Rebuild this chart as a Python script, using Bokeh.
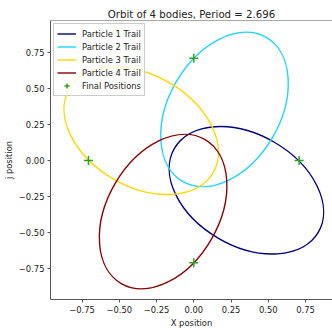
from bokeh.plotting import figure
from bokeh.models import Range1d, FixedTicker, Legend, LegendItem, Span
from bokeh.embed import file_html
from bokeh.resources import INLINE

# Orbit trails, each one a tilted ellipse: centre, full axis lengths, tilt
trail_labels = ["Particle 1 Trail", "Particle 2 Trail", "Particle 3 Trail", "Particle 4 Trail"]
trail_colors = ["navy", "#1fd3ff", "gold", "darkred"]
center_x = [0.353, 0.206, -0.353, -0.206]
center_y = [-0.206, 0.353, 0.206, -0.353]
major_axis = [1.118, 1.118, 1.118, 1.118]
minor_axis = [0.769, 0.769, 0.769, 0.769]
tilt_deg = [-30.2, 59.8, 149.8, 239.8]

# Final positions of the four bodies
final_x = [0.707, 0.0, -0.707, 0.0]
final_y = [0.0, 0.707, 0.0, -0.707]

tick_values = [-0.75, -0.5, -0.25, 0.0, 0.25, 0.5, 0.75]
tick_labels = ["\u22120.75", "\u22120.50", "\u22120.25", "0.00", "0.25", "0.50", "0.75"]

FONT = "DejaVu Sans"
TICK_PX = "8.4px"
NAN = float("nan")

p = figure(
    width=332, height=330,
    output_backend="svg", toolbar_location=None,
    x_range=Range1d(-0.962, 0.931), y_range=Range1d(-0.961, 0.968),
    min_border_left=50, min_border_right=0, min_border_top=20, min_border_bottom=27,
    title="Orbit of 4 bodies, Period = 2.696",
)
p.xgrid.visible = False
p.ygrid.visible = False
p.outline_line_color = None
p.background_fill_color = "white"
p.border_fill_color = "white"

p.title.text_font = FONT
p.title.text_font_size = "10.2px"
p.title.text_font_style = "normal"
p.title.text_color = "#222222"
p.title.align = "center"
p.title.offset = 2.5
p.title.standoff = 2

overrides = {v: s for v, s in zip(tick_values, tick_labels)}
for ax in (p.xaxis[0], p.yaxis[0]):
    ax.ticker = FixedTicker(ticks=tick_values)
    ax.major_label_overrides = overrides
    ax.major_label_text_font = FONT
    ax.major_label_text_font_size = TICK_PX
    ax.major_label_text_color = "#222222"
    ax.major_label_standoff = 3
    ax.axis_label_text_font = FONT
    ax.axis_label_text_font_size = TICK_PX
    ax.axis_label_text_font_style = "normal"
    ax.axis_label_text_color = "#222222"
    ax.axis_label_standoff = 2
    ax.axis_line_color = "#555555"
    ax.major_tick_line_color = "#555555"
    ax.major_tick_out = 3
    ax.major_tick_in = 0
    ax.minor_tick_line_color = None
p.xaxis.axis_label = "X position"
p.yaxis.axis_label = "j position"

# top spine
p.add_layout(Span(location=0.968, dimension="width", line_color="#555555", line_width=1))

items = []
for i in range(4):
    p.ellipse(x=center_x[i], y=center_y[i], width=major_axis[i], height=minor_axis[i],
              angle=tilt_deg[i], angle_units="deg",
              fill_color=None, line_color=trail_colors[i], line_width=1.4)
    # line handle used only as the legend swatch
    handle = p.line(x=[NAN], y=[NAN], line_color=trail_colors[i], line_width=1.4)
    items.append(LegendItem(label=trail_labels[i], renderers=[handle]))

finals = p.scatter(x=final_x, y=final_y, marker="cross", size=9,
                   line_color="#2ca02c", line_width=1.5)
items.append(LegendItem(label="Final Positions", renderers=[finals]))

legend = Legend(
    items=items, location="top_left", margin=3, padding=3, spacing=0,
    glyph_width=19, glyph_height=13, label_height=13, label_standoff=6,
    label_text_font=FONT, label_text_font_size=TICK_PX, label_text_color="#222222",
    border_line_color="#cccccc", border_line_width=1, border_line_alpha=1.0,
    background_fill_color="white", background_fill_alpha=0.8,
)
p.add_layout(legend)

open("out.html", "w").write(file_html(p, INLINE))
